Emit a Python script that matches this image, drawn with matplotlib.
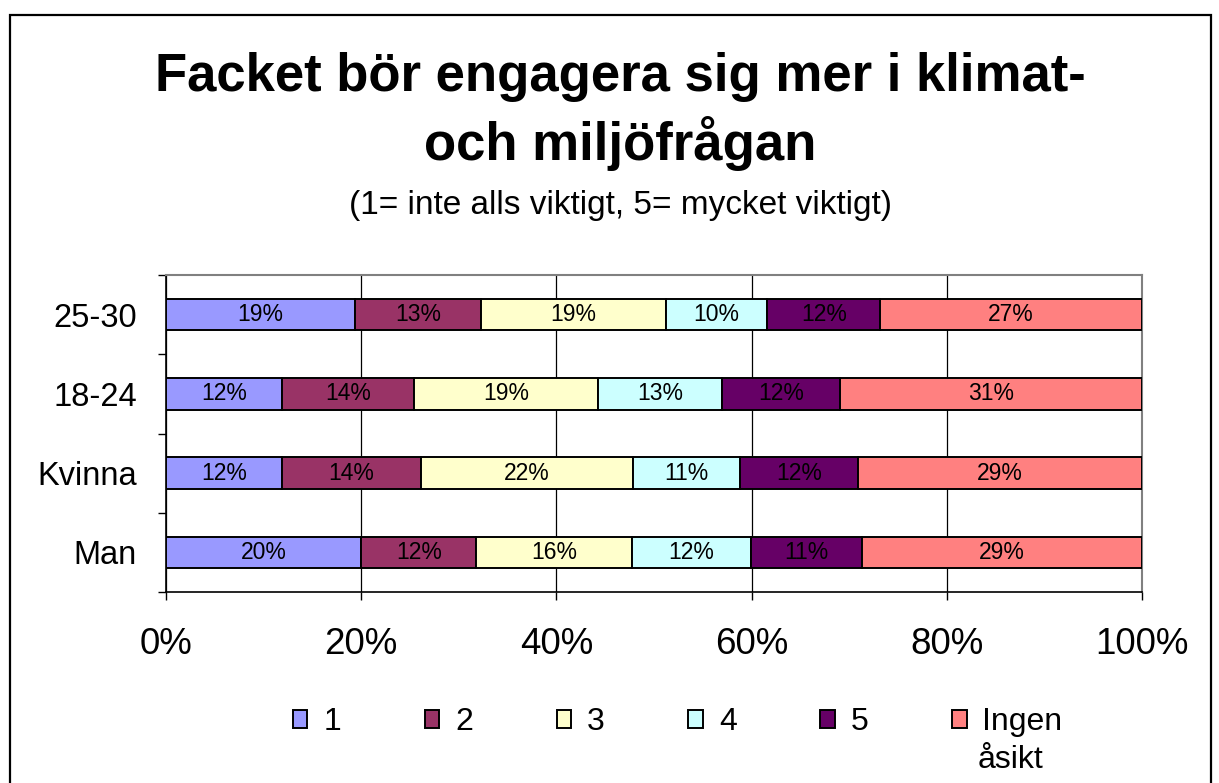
import matplotlib
matplotlib.use('Agg')
import matplotlib.pyplot as plt
import numpy as np
from matplotlib.patches import Rectangle

plt.rcParams['font.family'] = ['Liberation Sans', 'DejaVu Sans']

# grupper (nerifrån och upp) och svarsalternativ
groups = ['Man', 'Kvinna', '18-24', '25-30']
answers = ['1', '2', '3', '4', '5', 'Ingen']
colors = ['#9999FF', '#993366', '#FFFFCC', '#CCFFFF', '#660066', '#FF8080']

# andelar i procent, en lista per svarsalternativ (samma ordning som groups)
a1 = [20.0, 11.9, 11.9, 19.4]
a2 = [11.8, 14.2, 13.5, 12.9]
a3 = [15.9, 21.7, 18.9, 18.9]
a4 = [12.2, 11.0, 12.7, 10.4]
a5 = [11.4, 12.1, 12.1, 11.6]
a_ingen = [28.7, 29.1, 30.9, 26.8]
series = [a1, a2, a3, a4, a5, a_ingen]

fig = plt.figure(figsize=(12.19, 7.83), dpi=100)
ax = fig.add_axes([0.1362, 0.2439, 0.8006, 0.4049])

y = np.arange(len(groups))
left = np.zeros(len(groups))
for vals, col, name in zip(series, colors, answers):
    vals = np.array(vals)
    bars = ax.barh(y, vals, height=0.4, left=left, color=col,
                   edgecolor='black', linewidth=1.4, label=name, zorder=3)
    for b, v in zip(bars, vals):
        ax.text(b.get_x() + b.get_width() / 2, b.get_y() + b.get_height() / 2,
                f'{v:.0f}%', ha='center', va='center', fontsize=16.5,
                color='black', zorder=4)
    left += vals

ax.set_xlim(0, 100)
ax.set_ylim(-0.5, len(groups) - 0.5)
ax.set_xticks(np.arange(0, 101, 20))
ax.set_xticklabels([f'{v}%' for v in range(0, 101, 20)], fontsize=26.5)
ax.set_yticks(y)
ax.set_yticklabels(groups, fontsize=23.5)
ax.set_yticks(np.arange(-0.5, len(groups), 1), minor=True)
ax.tick_params(axis='y', which='major', length=0, pad=21)
ax.tick_params(axis='y', which='minor', length=6, width=1, direction='out')
ax.tick_params(axis='x', length=6, width=1, direction='out', pad=19)

ax.grid(axis='x', color='black', linewidth=0.9, zorder=0)
for s in ['top', 'right']:
    ax.spines[s].set_color('#808080')
    ax.spines[s].set_linewidth(1.5)
for s in ['left', 'bottom']:
    ax.spines[s].set_color('black')
    ax.spines[s].set_linewidth(1.2)

fig.text(0.509, 0.8576, 'Facket bör engagera sig mer i klimat-\noch miljöfrågan',
         ha='center', va='center', fontsize=38, fontweight='bold', linespacing=1.3)
fig.text(0.509, 0.737, '(1= inte alls viktigt, 5= mycket viktigt)',
         ha='center', va='center', fontsize=24)

leg = fig.legend(loc='center', bbox_to_anchor=(0.556, 1 - 722 / 783), ncol=6,
                 frameon=False, fontsize=23, handlelength=0.45, handleheight=0.5,
                 handletextpad=0.5, columnspacing=2.62, borderpad=0)

# andra raden av sista etiketten ("Ingen åsikt")
fig.canvas.draw()
bb = leg.get_texts()[-1].get_window_extent()
fig.text(bb.x0 / 1219 - 0.004, 1 - 760 / 783, 'åsikt', ha='left', va='center',
         fontsize=23)

# ram runt hela diagrammet
fig.patches.append(Rectangle((10 / 1219, -0.01), 1201 / 1219, 1 - 15 / 783 + 0.01,
                             transform=fig.transFigure, fill=False,
                             edgecolor='black', linewidth=1.6))

fig.savefig('out.png', dpi=100)
